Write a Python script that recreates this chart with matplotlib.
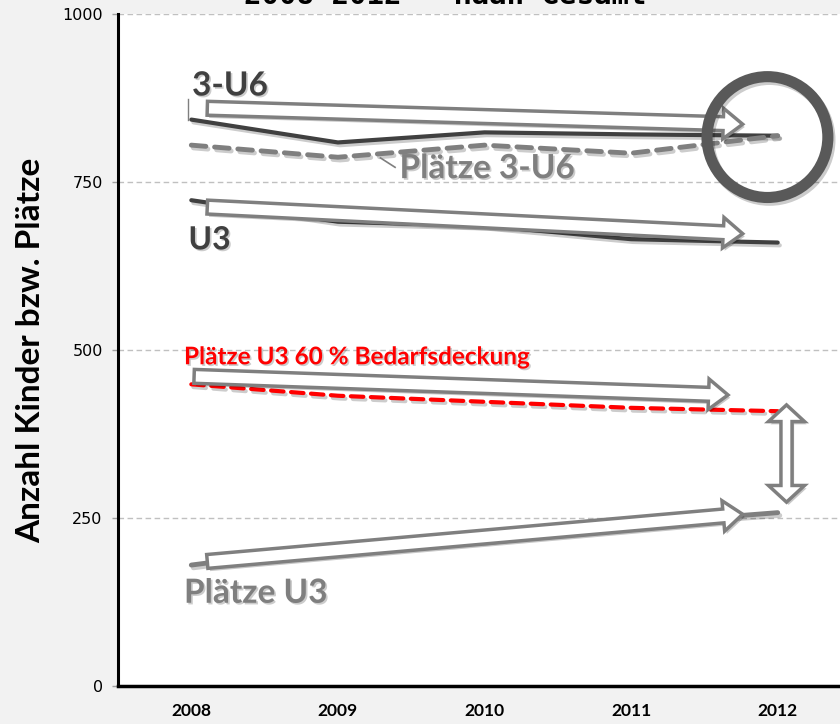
import numpy as np
import matplotlib
matplotlib.use("Agg")
import matplotlib.pyplot as plt
import matplotlib.patheffects as pe
import matplotlib.transforms as mtransforms
from matplotlib.patches import FancyArrowPatch, Polygon

# Daten
jahre = ["2008", "2009", "2010", "2011", "2012"]
kinder_3u6 = [843, 809, 824, 821, 819]
plaetze_3u6 = [805, 787, 805, 793, 819]
kinder_u3 = [723, 691, 685, 665, 660]
plaetze_u3_60 = [449, 432, 423, 414, 409]
plaetze_u3 = [180, 208, 217, 241, 258]

# Layout / Farben
BG = "#f2f2f2"
DARK = "#404040"
GREY = "#7f7f7f"
RED = "#ff0000"
FONT = ["Lato", "DejaVu Sans"]

plt.rcParams["font.family"] = FONT

fig = plt.figure(figsize=(8.4, 7.24), dpi=100, facecolor=BG)
ax = fig.add_axes([0.1405, 0.0525, 0.8726, 0.928])
ax.set_facecolor("white")

x = np.arange(len(jahre))
shadow = [pe.SimpleLineShadow(offset=(1.5, -2), shadow_color="k", alpha=0.2), pe.Normal()]
tshadow = [pe.withSimplePatchShadow(offset=(1.2, -1.2), shadow_rgbFace="k", alpha=0.2)]

ax.plot(x, kinder_3u6, color=DARK, lw=3, solid_capstyle="round", zorder=3, path_effects=shadow)
ax.plot(x, plaetze_3u6, color=GREY, lw=3.5, dashes=(3, 1.8), dash_capstyle="round",
        zorder=3, path_effects=shadow)
ax.plot(x, kinder_u3, color=DARK, lw=3, solid_capstyle="round", zorder=3, path_effects=shadow)
ax.plot(x, plaetze_u3_60, color=RED, lw=3, dashes=(3, 1.8), dash_capstyle="round",
        zorder=3, path_effects=shadow)
ax.plot(x, plaetze_u3, color=GREY, lw=3.5, solid_capstyle="round", zorder=3, path_effects=shadow)

# Achsen
ax.set_xlim(-0.5, 4.5)
ax.set_ylim(0, 1000)
ax.set_yticks([0, 250, 500, 750, 1000])
ax.set_xticks(x)
ax.set_xticklabels(jahre, fontweight="bold", fontsize=12.5)
ax.tick_params(axis="x", length=0, pad=12)
ax.tick_params(axis="y", length=4, width=1, color="#a0a0a0", pad=7, labelsize=11.5)
for lab in ax.get_yticklabels():
    lab.set_family("DejaVu Sans")
ax.yaxis.grid(True, linestyle=(0, (4, 2.5)), color="#c0c0c0", lw=1)
ax.set_axisbelow(True)
for s in ["top", "right"]:
    ax.spines[s].set_visible(False)
ax.spines["left"].set_linewidth(2.2)
ax.spines["bottom"].set_linewidth(2.5)

fig.text(0.036, 0.5155, "Anzahl Kinder bzw. Plätze", rotation=90, ha="center", va="center",
         fontsize=24, fontweight="bold", color="black")
fig.text(0.53, 1.005, "2008-2012 – Haan Gesamt", ha="center", va="center",
         fontsize=21, fontweight="bold", color="black", family="DejaVu Sans Mono")

# Hohlpfeile
def block_arrow(x0, y0, x1, y1):
    a = FancyArrowPatch((x0, y0), (x1, y1),
                        arrowstyle="simple,head_length=14,head_width=22,tail_width=10",
                        mutation_scale=1, facecolor="white", edgecolor=GREY, lw=2.5,
                        zorder=4, joinstyle="miter")
    a.set_path_effects([pe.withSimplePatchShadow(offset=(1.5, -2), shadow_rgbFace="k", alpha=0.22)])
    ax.add_patch(a)

block_arrow(0.09, 860, 3.78, 836)
block_arrow(0.09, 713, 3.78, 673)
block_arrow(0.0, 461, 3.68, 433)
block_arrow(0.09, 185, 3.78, 256)

# Doppelpfeil (in Punkten um die Mitte)
da_x, da_y = 4.06, 346
hl, hw, tw, half = 12, 13, 4, 35
verts = [(0, half), (hw, half - hl), (tw, half - hl), (tw, -half + hl), (hw, -half + hl),
         (0, -half), (-hw, -half + hl), (-tw, -half + hl), (-tw, half - hl), (-hw, half - hl)]
tr = (mtransforms.Affine2D().scale(1 / 72) + fig.dpi_scale_trans
      + mtransforms.ScaledTranslation(da_x, da_y, ax.transData))
dp = Polygon(verts, closed=True, transform=tr, facecolor="white", edgecolor=GREY, lw=2.5, zorder=4)
dp.set_path_effects([pe.withSimplePatchShadow(offset=(1.5, -2), shadow_rgbFace="k", alpha=0.22)])
ax.add_patch(dp)

# Kreis
ax.scatter([3.93], [817], s=87 ** 2, facecolors="none", edgecolors="#595959", linewidths=8,
           zorder=5, path_effects=[pe.SimpleLineShadow(offset=(1.5, -2), alpha=0.2), pe.Normal()])

# Beschriftungen
ax.text(0.005, 893, "3-U6", color=DARK, fontsize=24, fontweight="bold", va="center",
        path_effects=tshadow, zorder=6)
ax.text(-0.02, 664, "U3", color=DARK, fontsize=23, fontweight="bold", va="center",
        path_effects=tshadow, zorder=6)
ax.text(1.42, 770, "Plätze 3-U6", color=GREY, fontsize=24, fontweight="bold", va="center",
        path_effects=tshadow, zorder=6)
ax.text(-0.05, 490, "Plätze U3 60 % Bedarfsdeckung", color=RED, fontsize=17.5, fontweight="bold",
        va="center", path_effects=tshadow, zorder=6)
ax.text(-0.05, 138, "Plätze U3", color=GREY, fontsize=24, fontweight="bold", va="center",
        path_effects=tshadow, zorder=6)
ax.plot([-0.02, -0.02], [843, 873], color=GREY, lw=1, zorder=6)
ax.plot([1.29, 1.39], [786, 772], color=GREY, lw=1.2, zorder=6)

fig.savefig("out.png", dpi=100, facecolor=BG)
